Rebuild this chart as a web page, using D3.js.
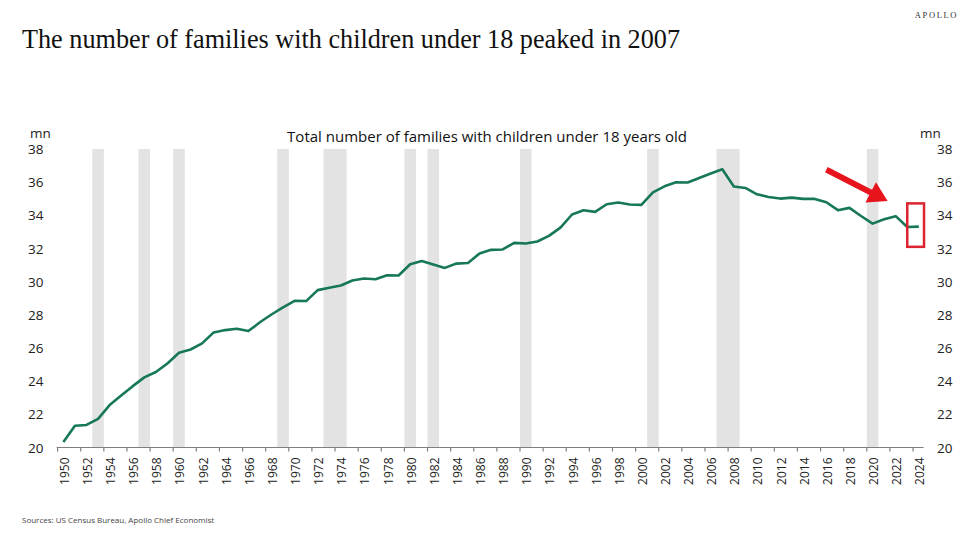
<!DOCTYPE html>
<html>
<head>
<meta charset="utf-8">
<script src="https://cdn.jsdelivr.net/npm/d3@7"></script>
<style>
  html, body { margin: 0; padding: 0; background: #fff; }
  svg { display: block; }
</style>
</head>
<body>
<svg id="chart" width="975" height="540"></svg>
<script>
// ---- data ----
const years = d3.range(1950, 2025);
const families = [
  20.33, 21.31, 21.36, 21.73, 22.56, 23.14, 23.70, 24.23, 24.55, 25.07,
  25.71, 25.91, 26.28, 26.94, 27.08, 27.16, 27.02, 27.55, 28.02, 28.45,
  28.84, 28.83, 29.49, 29.63, 29.77, 30.07, 30.19, 30.15, 30.39, 30.37,
  31.05, 31.25, 31.04, 30.83, 31.09, 31.13, 31.70, 31.92, 31.94, 32.34,
  32.30, 32.42, 32.76, 33.26, 34.05, 34.31, 34.21, 34.67, 34.77, 34.65,
  34.63, 35.39, 35.75, 35.99, 35.98, 36.25, 36.52, 36.78, 35.74, 35.65,
  35.27, 35.11, 35.01, 35.07, 34.99, 34.99, 34.79, 34.31, 34.45, 33.96,
  33.50, 33.76, 33.95, 33.30, 33.32
];
const recessionYears = [1953, 1957, 1960, 1969, 1973, 1974, 1980, 1982, 1990, 2001, 2007, 2008, 2020];
const yTicks = [20, 22, 24, 26, 28, 30, 32, 34, 36, 38];
const xTickYears = years.filter(y => y % 2 === 0);

const title = "The number of families with children under 18 peaked in 2007";
const subtitle = "Total number of families with children under 18 years old";
const unitLabel = "mn";
const source = "Sources: US Census Bureau, Apollo Chief Economist";
const brand = "APOLLO";
// highlighted window (years, values) and arrow annotation (year, value)
const highlightBox = { y0: 2023, y1: 2024.45, v0: 32.1, v1: 34.72 };
const arrowFrom = { year: 2016.0, value: 36.76 };
const arrowTo = { year: 2021.3, value: 34.86 };

// ---- layout ----
const svg = d3.select("#chart");
const plotLeft = 57.6, plotRight = 924.6, plotTop = 149, plotBottom = 447.5;
const sansFont = "'Open Sans', 'Noto Sans', sans-serif";
const serifFont = "'Liberation Serif', 'DejaVu Serif', serif";

const x = d3.scaleBand().domain(years).range([plotLeft, plotRight]).paddingInner(0).paddingOuter(0);
const bw = x.bandwidth();
const xl = d3.scaleLinear().domain([1949.5, 2024.5]).range([plotLeft, plotRight]);
const y = d3.scaleLinear().domain([20, 38]).range([plotBottom, plotTop]);

// recession bands
svg.append("g").selectAll("rect").data(recessionYears).join("rect")
  .attr("x", d => x(d))
  .attr("y", y(38))
  .attr("width", bw)
  .attr("height", y(20) - y(38))
  .attr("fill", "#e3e3e3");

// x axis
const xAxis = svg.append("g").attr("transform", `translate(0,${plotBottom})`);
xAxis.append("line").attr("x1", plotLeft - 1).attr("x2", plotRight - 1)
  .attr("stroke", "#7f7f7f").attr("stroke-width", 1.2);
xAxis.selectAll("line.tick").data(xTickYears).join("line")
  .attr("class", "tick")
  .attr("x1", d => x(d)).attr("x2", d => x(d))
  .attr("y1", 0).attr("y2", 4)
  .attr("stroke", "#7f7f7f").attr("stroke-width", 1.2);
xAxis.selectAll("text").data(xTickYears).join("text")
  .attr("transform", d => `translate(${x(d) + bw / 2 + 1},${10}) rotate(-90)`)
  .attr("text-anchor", "end")
  .attr("dominant-baseline", "central")
  .attr("font-family", sansFont)
  .attr("font-size", 12)
  .attr("fill", "#222")
  .text(d => d);

// y axes (labels only)
svg.append("g").selectAll("text").data(yTicks).join("text")
  .attr("x", 43.5).attr("y", d => y(d))
  .attr("text-anchor", "end").attr("dominant-baseline", "central")
  .attr("font-family", sansFont).attr("font-size", 13.5).attr("fill", "#222")
  .text(d => d);
svg.append("g").selectAll("text").data(yTicks).join("text")
  .attr("x", 937).attr("y", d => y(d))
  .attr("text-anchor", "start").attr("dominant-baseline", "central")
  .attr("font-family", sansFont).attr("font-size", 13.5).attr("fill", "#222")
  .text(d => d);
svg.append("text").attr("x", 30).attr("y", 133)
  .attr("dominant-baseline", "central")
  .attr("font-family", sansFont).attr("font-size", 13.5).attr("fill", "#222").text(unitLabel);
svg.append("text").attr("x", 920).attr("y", 133)
  .attr("dominant-baseline", "central")
  .attr("font-family", sansFont).attr("font-size", 13.5).attr("fill", "#222").text(unitLabel);

// subtitle
svg.append("text").attr("x", 487).attr("y", 136)
  .attr("text-anchor", "middle").attr("dominant-baseline", "central")
  .attr("font-family", sansFont).attr("font-size", 15).attr("fill", "#111")
  .text(subtitle);

// line
const lineData = years.map((yr, i) => ({ yr, v: families[i] }));
svg.append("path").datum(lineData)
  .attr("fill", "none")
  .attr("stroke", "#167759")
  .attr("stroke-width", 2.6)
  .attr("stroke-linejoin", "round")
  .attr("d", d3.line().x(d => x(d.yr) + bw / 2).y(d => y(d.v)));

// highlight box
svg.append("rect")
  .attr("x", xl(highlightBox.y0)).attr("y", y(highlightBox.v1))
  .attr("width", xl(highlightBox.y1) - xl(highlightBox.y0))
  .attr("height", y(highlightBox.v0) - y(highlightBox.v1))
  .attr("fill", "none").attr("stroke", "#dc2430").attr("stroke-width", 2.5);

// arrow
const ax0 = xl(arrowFrom.year), ay0 = y(arrowFrom.value);
const ax1 = xl(arrowTo.year), ay1 = y(arrowTo.value);
const L = Math.hypot(ax1 - ax0, ay1 - ay0);
const ang = Math.atan2(ay1 - ay0, ax1 - ax0) * 180 / Math.PI;
const headL = 19, headW = 11.5, shaftW = 3;
svg.append("polygon")
  .attr("transform", `translate(${ax0},${ay0}) rotate(${ang})`)
  .attr("points", [
    [0, -shaftW], [L - headL, -shaftW], [L - headL, -headW], [L, 0],
    [L - headL, headW], [L - headL, shaftW], [0, shaftW]
  ].map(p => p.join(",")).join(" "))
  .attr("fill", "#e8141c");

// title
svg.append("text").attr("x", 22).attr("y", 48)
  .attr("font-family", serifFont).attr("font-size", 27).attr("fill", "#111")
  .attr("textLength", 658).attr("lengthAdjust", "spacingAndGlyphs")
  .text(title);

// brand
svg.append("text").attr("x", 958).attr("y", 18)
  .attr("text-anchor", "end")
  .attr("font-family", serifFont).attr("font-size", 8.5).attr("letter-spacing", 1.6)
  .attr("fill", "#333").text(brand);

// source
svg.append("text").attr("x", 22).attr("y", 523)
  .attr("font-family", sansFont).attr("font-size", 8).attr("fill", "#444")
  .text(source);
</script>
</body>
</html>
